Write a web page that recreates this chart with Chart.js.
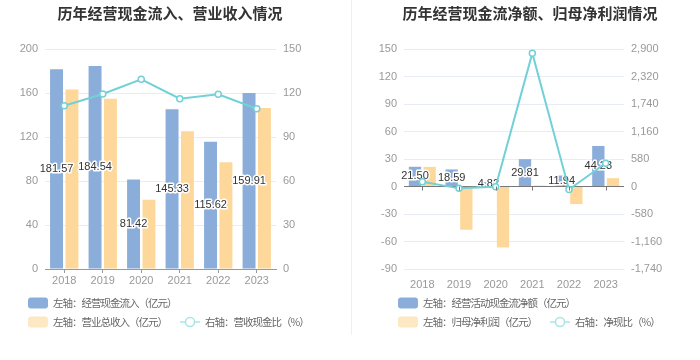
<!DOCTYPE html>
<html>
<head>
<meta charset="utf-8">
<script src="https://cdn.jsdelivr.net/npm/chart.js@4/dist/chart.umd.min.js"></script>
<style>
  body { margin: 0; background: #fff; }
  #wrap { position: relative; width: 700px; height: 360px; }
  .box { position: absolute; top: 0; width: 350px; height: 360px; }
  #sep { position: absolute; left: 351px; top: 0; width: 1px; height: 335px; background: #f0f0f0; z-index: 2; }
</style>
</head>
<body>
<div id="wrap">
  <div class="box" style="left:0"><canvas id="c1" width="350" height="360"></canvas></div>
  <div class="box" style="left:350px"><canvas id="c2" width="350" height="360"></canvas></div>
  <div id="sep"></div>
</div>
<script>
// donnees
const annees = ['2018', '2019', '2020', '2021', '2022', '2023'];
const fluxEntrant = [181.57, 184.54, 81.42, 145.33, 115.62, 159.91];
const chiffreAffaires = [163.1, 154.7, 63.0, 125.2, 97.1, 146.3];
const ratioEncaissement = [111.3, 119.3, 129.3, 116.1, 119.1, 109.3];
const fluxNet = [21.50, 18.59, 4.82, 29.81, 11.94, 44.23];
const resultatNet = [21.4, -47.2, -66.5, 1.06, -19.2, 9.1];
const ratioNet = [100.5, -39.4, -7.2, 2812, -62.2, 490];

const BLEU = '#8badda';
const ORANGE = '#fed89a';
const TURQUOISE = '#72d1d7';
const FONT = '"Liberation Sans", "Noto Sans CJK SC", sans-serif';
const GRILLE = '#e8ecf4';

Chart.defaults.font.family = FONT;
Chart.defaults.animation = false;

// titre, legende et etiquettes dessinees a la main
const decor = {
    id: 'decor',
    afterDatasetDraw(chart, args, opts) {
        if (args.index !== 0) return;
        const ctx = chart.ctx;
        const meta = chart.getDatasetMeta(0);
        const valeurs = chart.data.datasets[0].data;
        ctx.save();
        ctx.font = '11px ' + FONT;
        ctx.textAlign = 'center';
        ctx.textBaseline = 'middle';
        ctx.lineWidth = 3;
        ctx.lineJoin = 'round';
        ctx.strokeStyle = '#fff';
        ctx.fillStyle = '#333';
        meta.data.forEach((bar, i) => {
            const y = (bar.y + bar.base) / 2;
            const txt = valeurs[i].toFixed(2);
            ctx.strokeText(txt, bar.x, y);
            ctx.fillText(txt, bar.x, y);
        });
        ctx.restore();
    },
    afterDraw(chart, args, opts) {
        const ctx = chart.ctx;
        ctx.save();
        // titre
        ctx.font = 'bold 15px "Noto Sans CJK SC", sans-serif';
        ctx.fillStyle = '#333';
        ctx.textAlign = 'center';
        ctx.textBaseline = 'middle';
        ctx.fillText(opts.titre, opts.titreX, 13);

        // petites graduations sur la ligne zero
        if (opts.graduationsZero) {
            const y0 = chart.scales.y.getPixelForValue(0);
            ctx.strokeStyle = '#777';
            ctx.lineWidth = 1;
            annees.forEach((a, i) => {
                const x = Math.round(chart.scales.x.getPixelForValue(i)) + 0.5;
                ctx.beginPath();
                ctx.moveTo(x, y0);
                ctx.lineTo(x, y0 + 4);
                ctx.stroke();
            });
        }

        // legende
        ctx.font = '10.5px "Noto Sans CJK SC", sans-serif';
        ctx.letterSpacing = '-1px';
        ctx.textAlign = 'left';
        opts.legende.forEach(item => {
            if (item.type === 'box') {
                ctx.fillStyle = item.couleur;
                ctx.beginPath();
                ctx.roundRect(item.x, item.y - 5.5, 20, 11, 3);
                ctx.fill();
            } else {
                ctx.strokeStyle = item.couleur;
                ctx.lineWidth = 1.5;
                ctx.beginPath();
                ctx.moveTo(item.x, item.y);
                ctx.lineTo(item.x + 20, item.y);
                ctx.stroke();
                ctx.fillStyle = '#fff';
                ctx.beginPath();
                ctx.arc(item.x + 10, item.y, 4.5, 0, Math.PI * 2);
                ctx.fill();
                ctx.stroke();
            }
            ctx.fillStyle = '#666';
            ctx.fillText(item.texte, item.x + 25, item.y);
        });
        ctx.restore();
    }
};

function axeX(avecBordure) {
    return {
        grid: {
            display: avecBordure, drawOnChartArea: false, offset: false,
            tickLength: 4, color: '#999'
        },
        border: { display: avecBordure, color: '#999' },
        ticks: { color: '#999', font: { size: 11 }, padding: avecBordure ? 1 : 5 },
        afterFit: s => { s.height = 25; }
    };
}

function axeY(cote, min, max, pas, largeur, grille, format) {
    return {
        position: cote,
        min: min, max: max,
        ticks: {
            stepSize: pas, color: '#999', font: { size: 11 }, padding: 7,
            callback: format || (v => v)
        },
        grid: grille ? { color: grille, drawTicks: false } : { display: false, drawTicks: false },
        border: { display: false },
        afterFit: s => { s.width = largeur; }
    };
}

function ligne(label, data) {
    return {
        type: 'line', label: label, data: data, yAxisID: 'y1', order: 0,
        borderColor: TURQUOISE, borderWidth: 2, tension: 0,
        pointRadius: 3, pointBorderWidth: 1.5,
        pointBackgroundColor: '#fff', pointBorderColor: TURQUOISE
    };
}

function barres(label, data, couleur, ordre) {
    return {
        type: 'bar', label: label, data: data, yAxisID: 'y', order: ordre,
        backgroundColor: couleur, categoryPercentage: 0.8, barPercentage: 0.84
    };
}

// graphique de gauche
new Chart(document.getElementById('c1'), {
    data: {
        labels: annees,
        datasets: [
            barres('左轴：经营现金流入（亿元）', fluxEntrant, BLEU, 1),
            barres('左轴：营业总收入（亿元）', chiffreAffaires, ORANGE, 2),
            ligne('右轴：营收现金比（%）', ratioEncaissement)
        ]
    },
    options: {
        responsive: false,
        layout: { padding: { top: 49, bottom: 66, left: 0, right: 0 } },
        plugins: {
            legend: { display: false },
            tooltip: { enabled: false },
            decor: {
                titre: '历年经营现金流入、营业收入情况', titreX: 170,
                graduationsZero: false,
                legende: [
                    { type: 'box', couleur: BLEU, x: 28, y: 303, texte: '左轴：经营现金流入（亿元）' },
                    { type: 'box', couleur: '#fee7c3', x: 28, y: 322, texte: '左轴：营业总收入（亿元）' },
                    { type: 'line', couleur: '#a9e4e8', x: 180, y: 322, texte: '右轴：营收现金比（%）' }
                ]
            }
        },
        scales: {
            x: axeX(true),
            y: axeY('left', 0, 200, 40, 45, GRILLE),
            y1: axeY('right', 0, 150, 30, 74, null)
        }
    },
    plugins: [decor]
});

// graphique de droite
new Chart(document.getElementById('c2'), {
    data: {
        labels: annees,
        datasets: [
            barres('左轴：经营活动现金流净额（亿元）', fluxNet, BLEU, 1),
            barres('左轴：归母净利润（亿元）', resultatNet, ORANGE, 2),
            ligne('右轴：净现比（%）', ratioNet)
        ]
    },
    options: {
        responsive: false,
        layout: { padding: { top: 49, bottom: 66, left: 0, right: 0 } },
        plugins: {
            legend: { display: false },
            tooltip: { enabled: false },
            decor: {
                titre: '历年经营现金流净额、归母净利润情况', titreX: 180,
                graduationsZero: true,
                legende: [
                    { type: 'box', couleur: BLEU, x: 48, y: 303, texte: '左轴：经营活动现金流净额（亿元）' },
                    { type: 'box', couleur: '#fee7c3', x: 48, y: 322, texte: '左轴：归母净利润（亿元）' },
                    { type: 'line', couleur: '#a9e4e8', x: 200, y: 322, texte: '右轴：净现比（%）' }
                ]
            }
        },
        scales: {
            x: axeX(false),
            y: axeY('left', -90, 150, 30, 54, ctx => ctx.tick && ctx.tick.value === 0 ? '#777' : GRILLE),
            y1: axeY('right', -1740, 2900, 580, 76, null, v => v.toLocaleString('en-US'))
        }
    },
    plugins: [decor]
});
</script>
</body>
</html>
